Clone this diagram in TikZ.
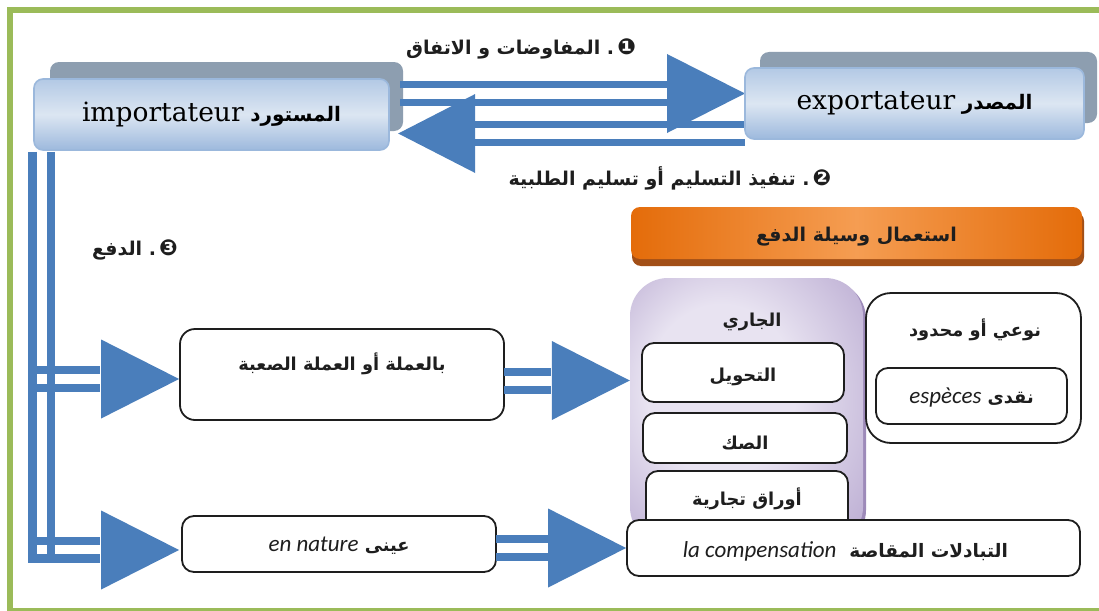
\documentclass[tikz,border=0pt]{standalone}
\usepackage{fontspec}
\usetikzlibrary{calc}
\TeXXeTstate=1
\newfontfamily\arabicfont[Script=Arabic]{DejaVu Sans}
\newfontfamily\dingfont{DejaVu Sans}
\newfontfamily\latinserif{DejaVu Serif}
\newfontfamily\latinsans{Carlito}

\definecolor{frame}{HTML}{9BBB59}
\definecolor{ablue}{HTML}{4A7EBB}
\definecolor{shadowgrey}{HTML}{8D9EB0}
\definecolor{bluetop}{HTML}{B3C9E5}
\definecolor{bluemid}{HTML}{DCE6F2}
\definecolor{bluebot}{HTML}{9DB9DD}
\definecolor{bluebd}{HTML}{9BB8DC}
\definecolor{orangeA}{HTML}{E46C0A}
\definecolor{orangeB}{HTML}{F59D52}
\definecolor{orangeshade}{HTML}{A24F17}
\definecolor{purL}{HTML}{E8E3F1}
\definecolor{purD}{HTML}{AC9AC8}
\definecolor{purshade}{HTML}{9D8AB9}
\definecolor{ink}{HTML}{1E1E1E}

\pgfdeclareradialshading{purpleglow}{\pgfpoint{-8bp}{6bp}}{color(0bp)=(purL); color(16bp)=(purL); color(44bp)=(purD); color(50bp)=(purD)}

% bold Arabic run, right to left
\newcommand{\ar}[1]{{\arabicfont\bfseries\beginR #1\endR}}
% upright-weight italic Latin words
\newcommand{\lat}[1]{{\latinsans\mdseries\itshape\fontsize{23}{26}\selectfont #1}}
% step numbers
\newcommand{\stepno}[1]{{\dingfont\fontsize{22}{24}\selectfont #1}}
% solid triangular heads, tip given by a named coordinate
\newcommand{\headright}[1]{\fill[ablue] (#1) -- ++(-78,-39.5) -- ++(0,79) -- cycle;}
\newcommand{\headleft}[1]{\fill[ablue] (#1) -- ++(77,-39.5) -- ++(0,79) -- cycle;}

\begin{document}
\begin{tikzpicture}[x=1pt,y=-1pt,
  shaft/.style={draw=ablue, line width=8},
  shadowbox/.style={rounded corners=9, fill=shadowgrey, inner sep=0},
  bluebox/.style={rounded corners=9, draw=bluebd, line width=1.6,
    top color=bluetop, bottom color=bluebot, middle color=bluemid, inner sep=0},
  whitebox/.style={rounded corners=12, draw=ink, line width=1.8, fill=white, inner sep=0},
  arlab/.style={font=\arabicfont\bfseries\fontsize{17.8}{21}\selectfont, text=ink, inner sep=0},
  steplab/.style={arlab, font=\arabicfont\bfseries\fontsize{19}{23}\selectfont},
]
\clip (0,0) rectangle (1099,610);
\fill[white] (0,0) rectangle (1099,610);

% outer frame
\draw[frame, line width=6] (10,10) rectangle (1120,611);

% importer and exporter cards with their shadows
\node[shadowbox, minimum width=353, minimum height=69] (impsh) at (226.5,96.5) {};
\node[shadowbox, minimum width=337, minimum height=71] (expsh) at (928.5,87.5) {};

% negotiation arrow (importer -> exporter)
\coordinate (t1) at (745,93.5);
\coordinate (h1) at ($(t1)+(-78,0)$);
\draw[shaft, line width=7] ($(impsh.east |- h1)+(-3,-9)$) -- ($(h1)+(0,-9)$);
\draw[shaft, line width=7] ($(impsh.east |- h1)+(-3,9)$) -- ($(h1)+(0,9)$);
\headright{t1}

% delivery arrow (exporter -> importer)
\coordinate (t2) at ($(impsh.east)+(-5,37)$);
\coordinate (h2) at ($(t2)+(77,0)$);
\draw[shaft, line width=7] ($(h2)+(0,-9.5)$) -- ($(h2)+(270,-9.5)$);
\draw[shaft, line width=7] ($(h2)+(0,8.5)$) -- ($(h2)+(270,8.5)$);
\headleft{t2}

\node[bluebox, minimum width=355, minimum height=71] (imp) at (211.5,114.5)
  {{\latinserif\fontsize{26.5}{30}\selectfont importateur}\ \ {\fontsize{20}{24}\selectfont\ar{المستورد}}};
\node[bluebox, minimum width=339, minimum height=71] (exp) at (914.5,103.5)
  {{\latinserif\fontsize{26.5}{30}\selectfont exportateur}\ \ {\fontsize{20}{24}\selectfont\ar{المصدر}}};

\node[steplab] (l1) at (521,49) {\ar{المفاوضات و الاتفاق}\ .\,\stepno{❶}};
\node[steplab] (l2) at (670,178) {\ar{تنفيذ التسليم أو تسليم الطلبية}\ .\,\stepno{❷}};
\node[steplab] (l3) at (135,250) {\ar{الدفع}\ .\,\stepno{❸}};

% payment boxes
\node[whitebox, rounded corners=15, minimum width=324, minimum height=91] (b1) at (342,374.5) {};
\node[arlab] at ($(b1.center)+(0,-11)$) {\ar{بالعملة أو العملة الصعبة}};
\node[whitebox, minimum width=314, minimum height=56] (b2) at (339,544) {};
\node[arlab] at ($(b2.center)+(0,2)$) {\lat{en nature} \ar{عينى}};

% payment double lines coming down from the importer
\coordinate (vo) at ($(imp.south west)+(-0.5,1)$);
\coordinate (vi) at ($(imp.south west)+(17.5,1)$);
\coordinate (t3) at ($(b1.west)+(0,4.5)$);
\coordinate (h3) at ($(t3)+(-79,0)$);
\coordinate (t4) at ($(b2.west)+(-2,6)$);
\coordinate (h4) at ($(t4)+(-79,0)$);
\coordinate (h4b) at ($(h4)+(0,8.5)$);
\draw[shaft, line width=9] (vo) |- (h4b);
\draw[shaft] (vi) -- (vi |- h4b);
\draw[shaft] ($(h3)+(-63,-9)$) -- ($(h3)+(0,-9)$);
\draw[shaft] ($(h3)+(-63,9)$) -- ($(h3)+(0,9)$);
\draw[shaft] ($(h4)+(-63,-9)$) -- ($(h4)+(0,-9)$);
\headright{t3}
\headright{t4}

% orange heading
\fill[orangeshade, rounded corners=9] (632,212) rectangle (1084,266);
\node[rounded corners=9, minimum width=451, minimum height=52, inner sep=0,
  left color=orangeA, right color=orangeA, middle color=orangeB] (use) at (856.5,233) {};
\node[steplab] at ($(use.center)+(0,4)$) {\ar{استعمال وسيلة الدفع}};

% current instruments panel
\fill[purshade, rounded corners=38] (633,281) rectangle (866,548);
\node[rounded corners=38, minimum width=233, minimum height=267, inner sep=0,
  shading=purpleglow] (cur) at (746.5,411.5) {};
\node[arlab] at (752,322) {\ar{الجاري}};
\node[whitebox, minimum width=202, minimum height=59] (tahwil) at (743,372.5) {};
\node[arlab] at ($(tahwil.center)+(0,4)$) {\ar{التحويل}};
\node[whitebox, minimum width=204, minimum height=50] (sak) at (745,438) {};
\node[arlab] at ($(sak.center)+(0,5)$) {\ar{الصك}};
\node[whitebox, minimum width=202, minimum height=70] (awraq) at (747,506) {};
\node[arlab] at (747,499) {\ar{أوراق تجارية}};

% cash panel
\node[whitebox, rounded corners=25, minimum width=215, minimum height=150] (cash) at (973.5,368) {};
\node[arlab] at (975,330) {\ar{نوعي أو محدود}};
\node[whitebox, minimum width=191, minimum height=56] (naqd) at (971.5,396) {};
\node[arlab] at ($(naqd.center)+(0,2)$) {\lat{espèces} \ar{نقدى}};

% clearing box
\node[whitebox, minimum width=453, minimum height=56] (comp) at (853.5,548) {};
\node[steplab, font=\arabicfont\bfseries\fontsize{18.5}{22}\selectfont] at ($(comp.center)+(-8,3)$) {\lat{la compensation}\ \ \ar{التبادلات المقاصة}};

% arrows from payment boxes to instruments
\coordinate (t5) at ($(cur.west)+(0,-31)$);
\coordinate (h5) at ($(t5)+(-79,0)$);
\draw[shaft] ($(b1.east |- h5)+(-1,-8.5)$) -- ($(h5)+(0,-8.5)$);
\draw[shaft] ($(b1.east |- h5)+(-1,9)$) -- ($(h5)+(0,9)$);
\headright{t5}
\coordinate (t6) at (comp.west);
\coordinate (h6) at ($(t6)+(-77,0)$);
\draw[shaft] ($(b2.east |- h6)+(-1,-9)$) -- ($(h6)+(0,-9)$);
\draw[shaft] ($(b2.east |- h6)+(-1,9)$) -- ($(h6)+(0,9)$);
\headright{t6}
\end{tikzpicture}
\end{document}
